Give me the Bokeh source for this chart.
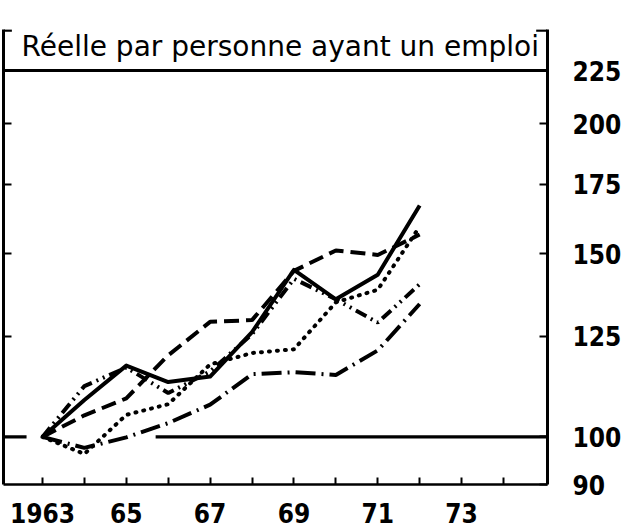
from bokeh.plotting import figure
from bokeh.models import (Range1d, LinearAxis, LogAxis, FixedTicker)
from bokeh.core.properties import value
from bokeh.embed import file_html
from bokeh.resources import INLINE

# ---------------- data ----------------
YEARS = [1963, 1964, 1965, 1966, 1967, 1968, 1969, 1970, 1971, 1972]
SERIES_SOLID      = [100, 108.5, 117.1, 112.9, 114.3, 126.1, 144.7, 135.6, 143.2, 166.9]
SERIES_DASHED     = [100, 104.9, 108.9, 119.8, 129.0, 129.5, 144.4, 151.1, 149.6, 156.5]
SERIES_DOTTED     = [100, 96.3, 105.0, 107.5, 117.4, 120.4, 121.4, 134.7, 138.5, 159.3]
SERIES_DASHDOT    = [100, 97.6, 99.9, 103.1, 107.4, 114.9, 115.4, 114.7, 121.1, 134.2]
SERIES_DASHDOTDOT = [100, 111.9, 116.6, 110.2, 115.6, 125.5, 141.9, 135.6, 128.8, 140.2]

TITLE = "Réelle par personne ayant un emploi"
X_TICKS = [1963, 1964, 1965, 1966, 1967, 1968, 1969, 1970, 1971, 1972, 1973, 1974]
X_TICK_LABELS = {1963: "1963", 1965: "65", 1967: "67", 1969: "69", 1971: "71", 1973: "73",
                 1964: "", 1966: "", 1968: "", 1970: "", 1972: "", 1974: ""}
Y_TICKS_LEFT = [125, 150, 175, 200]
Y_TICKS_RIGHT = [90, 100, 125, 150, 175, 200, 225]
Y_TICK_LABELS = {90: "90", 100: "100", 125: "125", 150: "150", 175: "175", 200: "200", 225: "225"}
BASE_LEVEL = 100
BASE_GAPS_X0 = [1962.07, 1965.7]
BASE_GAPS_X1 = [1962.62, 1975.05]
TOP_LEVEL = 225

X_MIN, X_MAX = 1962.07, 1975.05
Y_MIN, Y_MAX = 90, 246.4

COND = "DejaVu Sans Condensed"

p = figure(width=630, height=530, output_backend="svg", toolbar_location=None,
           x_range=Range1d(X_MIN, X_MAX), y_range=Range1d(Y_MIN, Y_MAX),
           y_axis_type="log",
           x_axis_location=None, y_axis_location=None,
           min_border_left=3, min_border_top=29, min_border_bottom=46,
           min_border_right=83)
p.outline_line_color = None
p.grid.visible = False
p.background_fill_color = "white"
p.border_fill_color = "white"

# axes
bottom = LinearAxis(ticker=FixedTicker(ticks=X_TICKS), major_label_overrides=X_TICK_LABELS,
                    major_tick_in=7, major_tick_out=0, minor_tick_in=0, minor_tick_out=0,
                    axis_line_width=2.5, major_tick_line_width=2,
                    major_label_standoff=18,
                    major_label_text_font=COND, major_label_text_font_style="bold",
                    major_label_text_font_size="26px", major_label_text_color="black")
p.add_layout(bottom, "below")

left = LogAxis(ticker=FixedTicker(ticks=Y_TICKS_LEFT),
               major_label_overrides={t: "" for t in Y_TICKS_LEFT},
               major_tick_in=8, major_tick_out=0, minor_tick_in=0, minor_tick_out=0,
               axis_line_width=3, major_tick_line_width=2, major_label_standoff=0,
               major_label_text_font_size="1px")
p.add_layout(left, "left")

right = LogAxis(ticker=FixedTicker(ticks=Y_TICKS_RIGHT), major_label_overrides=Y_TICK_LABELS,
                major_tick_in=8, major_tick_out=0, minor_tick_in=0, minor_tick_out=0,
                axis_line_width=3, major_tick_line_width=2, major_label_standoff=25,
                major_label_text_font=COND, major_label_text_font_style="bold",
                major_label_text_font_size="26px", major_label_text_color="black")
p.add_layout(right, "right")

# frame decorations
p.line([X_MIN, X_MAX], [TOP_LEVEL, TOP_LEVEL], line_color="black", line_width=3)
p.segment(x0=[X_MIN, X_MAX - 0.27], y0=[Y_MAX * 0.998] * 2,
          x1=[X_MIN + 0.2, X_MAX], y1=[Y_MAX * 0.998] * 2,
          line_color="black", line_width=2.5)
p.segment(x0=BASE_GAPS_X0, y0=[BASE_LEVEL] * 2, x1=BASE_GAPS_X1, y1=[BASE_LEVEL] * 2,
          line_color="black", line_width=3.4)

p.text(x=[1962.50], y=[237.2], text=[TITLE], text_font=value("DejaVu Sans"),
       text_font_size="28px", text_baseline="alphabetic", text_align="left",
       text_color="black")

# series
common = dict(line_color="black", line_width=4)
p.line(YEARS, SERIES_DASHDOT, line_dash="20 6 2 6", **common)
p.line(YEARS, SERIES_DOTTED, line_dash="1 7", line_cap="round", **common)
p.line(YEARS, SERIES_DASHED, line_dash="15 7", **common)
p.line(YEARS, SERIES_DASHDOTDOT, line_dash="12 5 2 5 2 5", **common)
p.line(YEARS, SERIES_SOLID, line_join="round", **common)

open("out.html", "w").write(file_html(p, INLINE))
